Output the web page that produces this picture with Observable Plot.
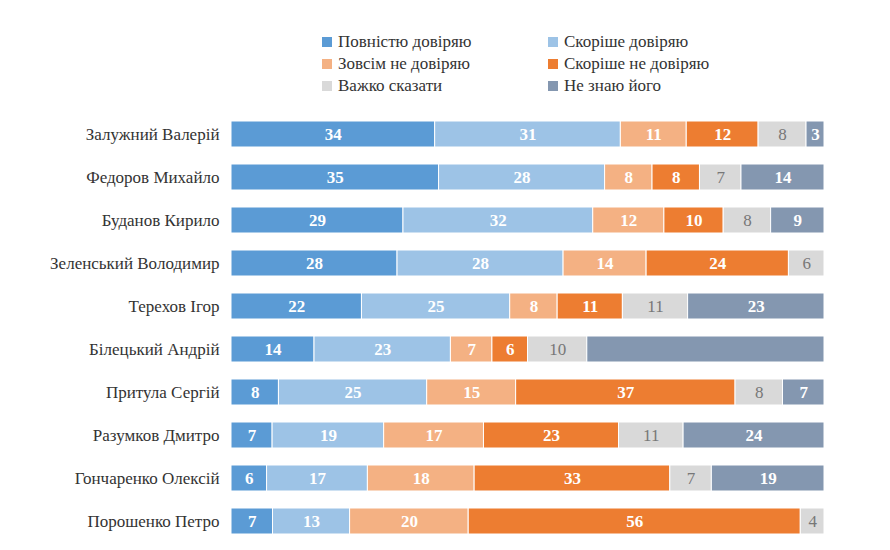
<!DOCTYPE html>
<html><head><meta charset="utf-8">
<script src="https://cdn.jsdelivr.net/npm/d3@7"></script>
<script src="https://cdn.jsdelivr.net/npm/@observablehq/plot@0.6"></script>
<style>
body{margin:0;background:#fff;font-family:"Liberation Serif",serif;overflow:hidden;}
#wrap{position:relative;width:890px;height:550px;overflow:hidden;}
#legend{position:absolute;left:0;top:0;width:890px;height:100px;font-size:17px;color:#333;font-family:"Liberation Serif",serif;}
.li{position:absolute;display:flex;align-items:center;gap:6px;font-family:"Liberation Serif",serif;}
.sw{width:10px;height:10px;display:inline-block;}
#chart{position:absolute;left:0;top:102px;}
</style></head><body>
<div id="wrap"><div id="legend"></div><div id="chart"></div></div>
<script>
const names = ["Залужний Валерій","Федоров Михайло","Буданов Кирило","Зеленський Володимир","Терехов Ігор","Білецький Андрій","Притула Сергій","Разумков Дмитро","Гончаренко Олексій","Порошенко Петро"];
const categories = ["Повністю довіряю","Скоріше довіряю","Зовсім не довіряю","Скоріше не довіряю","Важко сказати","Не знаю його"];
const colors = ["#5b9bd5","#9dc3e6","#f4b183","#ed7d31","#d9d9d9","#8497b0"];
const fullyTrust   = [34,35,29,28,22,14,8,7,6,7];
const ratherTrust  = [31,28,32,28,25,23,25,19,17,13];
const notAtAll     = [11,8,12,14,8,7,15,17,18,20];
const ratherNot    = [12,8,10,24,11,6,37,23,33,56];
const hardToSay    = [8,7,8,6,11,10,8,11,7,4];
const dontKnow     = [3,14,9,0,23,40,7,24,19,0];
const hideLabel = {"Білецький Андрій|Не знаю його": true};
const series = [fullyTrust,ratherTrust,notAtAll,ratherNot,hardToSay,dontKnow];
const data = [];
names.forEach((n,i)=>series.forEach((s,j)=>{ if(s[i]>0) data.push({name:n,cat:categories[j],value:s[i]}); }));

const leg = document.getElementById("legend");
const pos = [[322,43],[548,43],[322,65],[548,65],[322,87],[548,87]];
categories.forEach((c,k)=>{
  const d=document.createElement("div");d.className="li";
  d.style.left=pos[k][0]+"px";d.style.top=(pos[k][1]-11)+"px";
  d.innerHTML=`<span class="sw" style="background:${colors[k]}"></span><span>${c}</span>`;
  leg.appendChild(d);
});

const opts = {x:"value", y:"name", z:"cat", order: categories, offset:"normalize"};
const isGrey = d => d.cat==="Важко сказати";
const chart = Plot.plot({
  width: 890, height: 448,
  marginLeft: 231, marginRight: 66, marginTop: 0, marginBottom: 0,
  style:{fontFamily:"Liberation Serif, serif", fontSize:"17px", color:"#333"},
  x:{axis:null},
  y:{domain:names, range:[0,450], label:null, padding:0.4, tickSize:0, tickPadding:12},
  color:{domain:categories, range:colors},
  marks:[
    Plot.barX(data, Plot.stackX({...opts, fill:"cat", stroke:"white", strokeWidth:1})),
    Plot.text(data, Plot.stackX({...opts,
      text: d => (isGrey(d) || hideLabel[d.name+"|"+d.cat]) ? null : String(d.value),
      fill:"white", fontWeight:"bold", fontSize:17})),
    Plot.text(data, Plot.stackX({...opts,
      text: d => isGrey(d) ? String(d.value) : null,
      fill:"#777", fontSize:17}))
  ]
});
document.getElementById("chart").appendChild(chart);
</script></body></html>
